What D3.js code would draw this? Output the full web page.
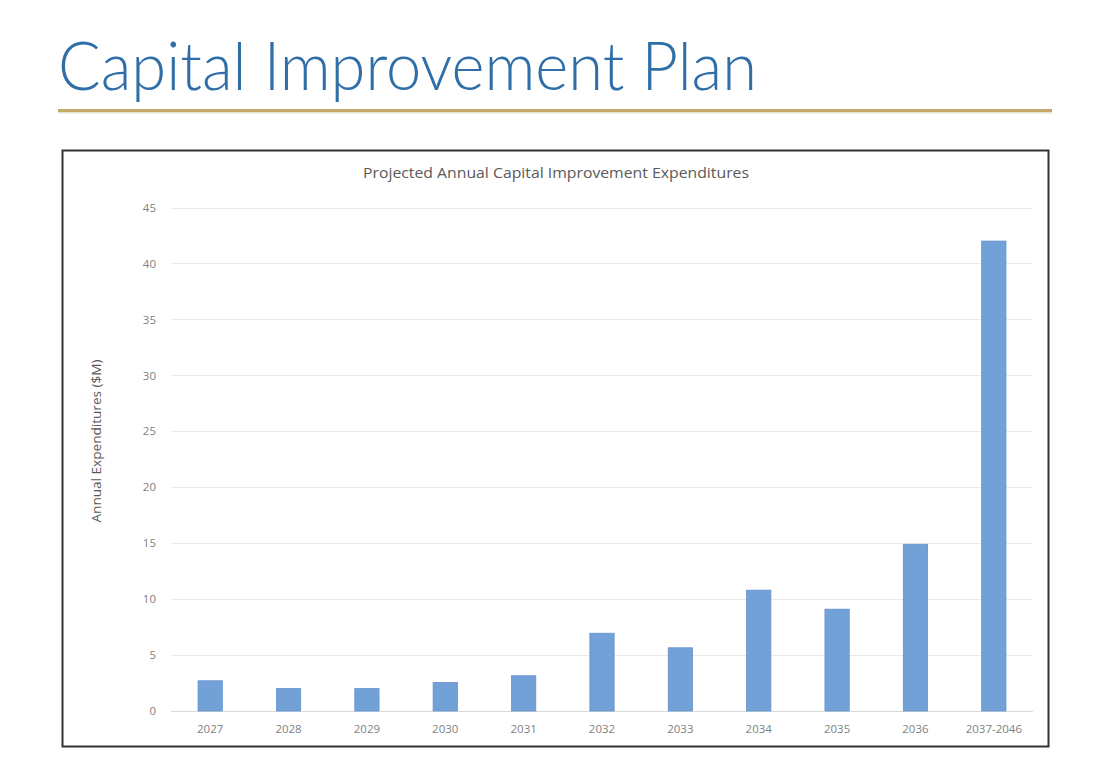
<!DOCTYPE html>
<html>
<head>
<meta charset="utf-8">
<script src="https://cdn.jsdelivr.net/npm/d3@7"></script>
<style>
  body { margin: 0; background: #fff; }
  svg { display: block; }
</style>
</head>
<body>
<svg id="chart"></svg>
<script>
// chart data
const categories = ["2027", "2028", "2029", "2030", "2031", "2032", "2033", "2034", "2035", "2036", "2037-2046"];
const expenditures = [2.7, 2.0, 2.0, 2.55, 3.15, 6.95, 5.65, 10.8, 9.1, 14.9, 42.0];
const yTicks = [0, 5, 10, 15, 20, 25, 30, 35, 40, 45];

const width = 1106;
const height = 762;

const svg = d3.select("#chart")
    .attr("width", width)
    .attr("height", height)
    .attr("viewBox", [0, 0, width, height]);

// slide heading
svg.append("text")
    .attr("x", 58)
    .attr("y", 90)
    .attr("fill", "#2f6ea7")
    .attr("textLength", 699)
    .attr("lengthAdjust", "spacingAndGlyphs")
    .style("font-family", "Lato, 'Open Sans', sans-serif")
    .style("font-weight", 300)
    .style("font-size", "67px")
    .text("Capital Improvement Plan");

// gold rule under heading, with a faint shadow
svg.append("line")
    .attr("x1", 58).attr("x2", 1052)
    .attr("y1", 112.5).attr("y2", 112.5)
    .attr("stroke", "#e8e2d4")
    .attr("stroke-width", 2);
svg.append("line")
    .attr("x1", 58).attr("x2", 1052)
    .attr("y1", 110.5).attr("y2", 110.5)
    .attr("stroke", "#c6a86a")
    .attr("stroke-width", 3);

// chart frame
svg.append("rect")
    .attr("x", 62.5).attr("y", 150.5)
    .attr("width", 986).attr("height", 596)
    .attr("fill", "#fff")
    .attr("stroke", "#333")
    .attr("stroke-width", 2);

const x = d3.scaleBand()
    .domain(categories)
    .range([171, 1033])
    .paddingInner(0.69)
    .paddingOuter(0.345);

const y = d3.scaleLinear()
    .domain([0, 45])
    .range([711, 207.5]);

// gridlines
svg.append("g")
  .selectAll("line")
  .data(yTicks)
  .join("line")
    .attr("x1", 171)
    .attr("x2", 1033)
    .attr("y1", d => Math.round(y(d)) + 0.5)
    .attr("y2", d => Math.round(y(d)) + 0.5)
    .attr("stroke", d => d === 0 ? "#d9d9d9" : "#e9e9e9")
    .attr("stroke-width", 1);

// y axis labels
svg.append("g")
    .attr("transform", "translate(171,0)")
    .call(d3.axisLeft(y).tickValues(yTicks).tickSize(0).tickPadding(15))
    .call(g => g.select(".domain").remove())
    .call(g => g.selectAll("text")
        .attr("fill", "#7f7f7f")
        .style("font-family", "'Open Sans', sans-serif")
        .style("font-size", "11.5px"));

// x axis labels
svg.append("g")
    .attr("transform", "translate(0,711)")
    .call(d3.axisBottom(x).tickSize(0).tickPadding(14))
    .call(g => g.select(".domain").remove())
    .call(g => g.selectAll("text")
        .attr("fill", "#7f7f7f")
        .style("font-family", "'Open Sans', sans-serif")
        .style("font-size", "11.5px"));

// bars
svg.append("g")
  .selectAll("rect")
  .data(expenditures)
  .join("rect")
    .attr("x", (d, i) => x(categories[i]))
    .attr("y", d => y(d))
    .attr("width", x.bandwidth())
    .attr("height", d => y(0) - y(d))
    .attr("fill", "#72a1d8")
    .attr("stroke", "#6593cc")
    .attr("stroke-width", 0.8);

// chart title
svg.append("text")
    .attr("x", 556)
    .attr("y", 178)
    .attr("text-anchor", "middle")
    .attr("fill", "#595959")
    .attr("textLength", 386)
    .attr("lengthAdjust", "spacingAndGlyphs")
    .style("font-family", "'Open Sans', sans-serif")
    .style("font-size", "14px")
    .text("Projected Annual Capital Improvement Expenditures");

// y axis title
svg.append("text")
    .attr("transform", "translate(101,441) rotate(-90)")
    .attr("text-anchor", "middle")
    .attr("fill", "#595959")
    .attr("textLength", 163)
    .attr("lengthAdjust", "spacingAndGlyphs")
    .style("font-family", "'Open Sans', sans-serif")
    .style("font-size", "12.5px")
    .text("Annual Expenditures ($M)");
</script>
</body>
</html>
